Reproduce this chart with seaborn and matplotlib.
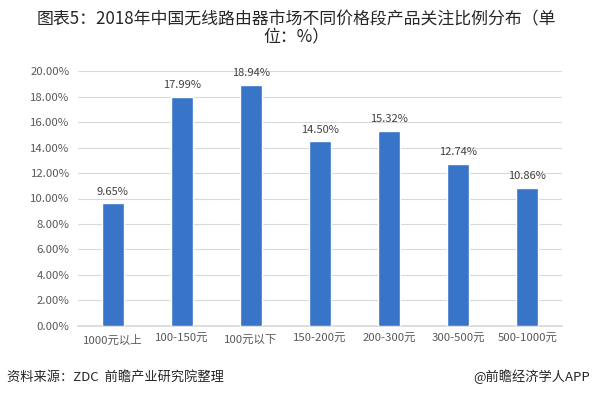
import seaborn as sns
import matplotlib.pyplot as plt
import matplotlib.ticker as mtick
import pandas as pd

categories = ['1000元以上', '100-150元', '100元以下', '150-200元', '200-300元', '300-500元', '500-1000元']
shares = [9.65, 17.99, 18.94, 14.50, 15.32, 12.74, 10.86]

sns.set_theme(style='white')
plt.rcParams['font.family'] = ['Noto Sans CJK SC', 'DejaVu Sans']

df = pd.DataFrame({'category': categories, 'share': shares})

fig = plt.figure(figsize=(5.92, 3.97), dpi=100)
ax = fig.add_axes([0.132, 0.179, 0.817, 0.642])

sns.barplot(data=df, x='category', y='share', color='#3874c8', width=0.32,
            saturation=1, ax=ax, zorder=3)

ax.set_ylim(0, 20)
ax.set_yticks(range(0, 21, 2))
ax.yaxis.set_major_formatter(mtick.FuncFormatter(lambda v, p: f'{v:.2f}%'))
ax.grid(axis='y', color='#d9d9d9', linewidth=0.8, zorder=0)
ax.set_xlabel('')
ax.set_ylabel('')
for s in ['top', 'right', 'left']:
    ax.spines[s].set_visible(False)
ax.spines['bottom'].set_color('#d9d9d9')
ax.tick_params(axis='both', length=0, labelsize=8.2, colors='#595959', pad=6)

for i, v in enumerate(shares):
    ax.text(i, v + 0.5, f'{v:.2f}%', ha='center', va='bottom', fontsize=8, color='#404040')

fig.text(0.5, 0.975, '图表5：2018年中国无线路由器市场不同价格段产品关注比例分布（单\n位：%）',
         ha='center', va='top', fontsize=12.2, color='#262626', linespacing=1.0)
fig.text(0.012, 0.05, '资料来源：ZDC  前瞻产业研究院整理', ha='left', va='center',
         fontsize=9.5, color='#262626')
fig.text(0.997, 0.05, '@前瞻经济学人APP', ha='right', va='center',
         fontsize=9.5, color='#262626')

fig.savefig('out.png', dpi=100)
